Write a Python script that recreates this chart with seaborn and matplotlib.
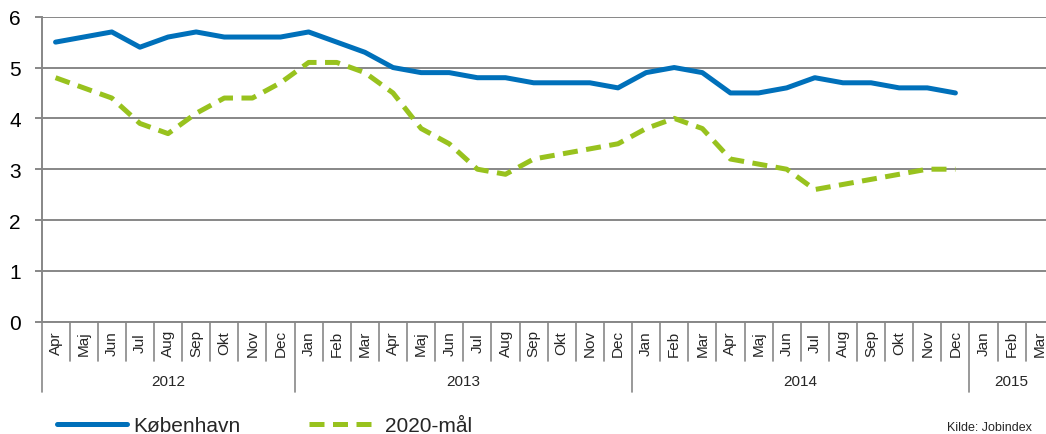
import matplotlib
matplotlib.use('Agg')
import matplotlib.pyplot as plt
import numpy as np
import pandas as pd
import seaborn as sns

sns.set_theme(style='white')
plt.rcParams['font.family'] = ['Liberation Sans', 'DejaVu Sans']

# ── data ──────────────────────────────────────────────────────────────────────
months = ['Apr', 'Maj', 'Jun', 'Jul', 'Aug', 'Sep', 'Okt', 'Nov', 'Dec',
          'Jan', 'Feb', 'Mar', 'Apr', 'Maj', 'Jun', 'Jul', 'Aug', 'Sep', 'Okt', 'Nov', 'Dec',
          'Jan', 'Feb', 'Mar', 'Apr', 'Maj', 'Jun', 'Jul', 'Aug', 'Sep', 'Okt', 'Nov', 'Dec',
          'Jan', 'Feb', 'Mar']
years = ['2012', '2013', '2014', '2015']
year_lengths = [9, 12, 12, 3]

kobenhavn = [5.5, 5.6, 5.7, 5.4, 5.6, 5.7, 5.6, 5.6, 5.6,
             5.7, 5.5, 5.3, 5.0, 4.9, 4.9, 4.8, 4.8, 4.7, 4.7, 4.7, 4.6,
             4.9, 5.0, 4.9, 4.5, 4.5, 4.6, 4.8, 4.7, 4.7, 4.6, 4.6, 4.5]
maal_2020 = [4.8, 4.6, 4.4, 3.9, 3.7, 4.1, 4.4, 4.4, 4.7,
             5.1, 5.1, 4.9, 4.5, 3.8, 3.5, 3.0, 2.9, 3.2, 3.3, 3.4, 3.5,
             3.8, 4.0, 3.8, 3.2, 3.1, 3.0, 2.6, 2.7, 2.8, 2.9, 3.0, 3.0]

df = pd.DataFrame({'idx': np.arange(len(kobenhavn)),
                   'København': kobenhavn, '2020-mål': maal_2020})

BLUE = '#0070BA'
GREEN = '#98C21E'
GRAY = '#878787'

# ── figure ────────────────────────────────────────────────────────────────────
fig = plt.figure(figsize=(10.46, 4.35), dpi=100)
W, H = 1046, 435
ax = fig.add_axes([41.5 / W, (H - 322.7) / H, 36 * 28.12 / W, 305 / H])

sns.lineplot(data=df, x='idx', y='København', ax=ax, color=BLUE,
             linewidth=3.6, label='København', solid_capstyle='round')
sns.lineplot(data=df, x='idx', y='2020-mål', ax=ax, color=GREEN,
             linewidth=3.6, label='2020-mål', linestyle=(0, (3.0, 1.7)))

ax.set_xlim(-0.5, len(months) - 0.5)
ax.set_ylim(0, 6)
ax.set_yticks(range(7))
ax.set_xticks([])
ax.set_xlabel('')
ax.set_ylabel('')
ax.yaxis.grid(True, color=GRAY, linewidth=1.4)
ax.set_axisbelow(True)
for s in ['top', 'right']:
    ax.spines[s].set_visible(False)
for s in ['left', 'bottom']:
    ax.spines[s].set_color(GRAY)
    ax.spines[s].set_linewidth(1.4)
ax.tick_params(axis='y', length=5, color=GRAY, width=1.4, pad=10,
               labelsize=15, labelcolor='black', left=True)

# category axis: separators, month and year labels
tr = ax.get_xaxis_transform()
year_starts = np.cumsum([0] + year_lengths)
for i in range(len(months) + 1):
    low = -0.23 if i in year_starts else -0.129
    ax.plot([i - 0.5, i - 0.5], [0, low], transform=tr, color=GRAY,
            linewidth=1.2, clip_on=False)
for i, m in enumerate(months):
    ax.text(i, -0.068, m, transform=tr, rotation=90, ha='center', va='center',
            fontsize=11)
for y, start, n in zip(years, year_starts[:-1], year_lengths):
    ax.text(start - 0.5 + n / 2, -0.194, y, transform=tr, ha='center',
            va='center', fontsize=11)

ax.legend(loc='lower left', bbox_to_anchor=(57 / W, -1 / H),
          bbox_transform=fig.transFigure, ncol=2, frameon=False,
          fontsize=15, handlelength=3.35, handletextpad=0.3,
          columnspacing=3.3, borderaxespad=0, borderpad=0)

fig.text(947 / W, 1 / H, 'Kilde: Jobindex', fontsize=9, va='bottom', ha='left')

plt.savefig('out.png', dpi=100)
plt.close()
